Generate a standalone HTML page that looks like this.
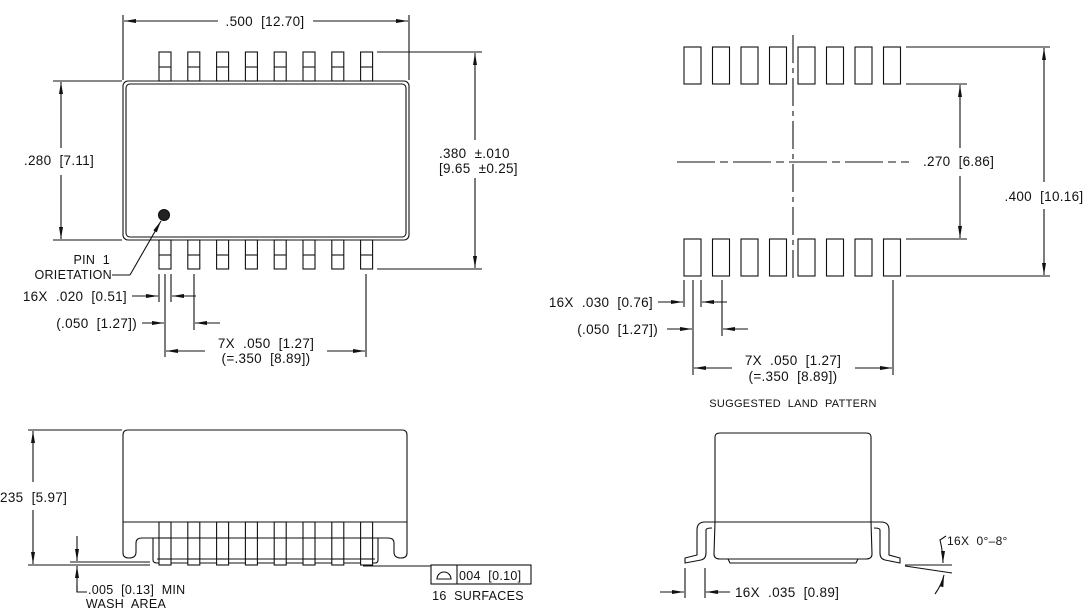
<!DOCTYPE html>
<html><head><meta charset="utf-8"><style>
html,body{margin:0;padding:0;background:#fff;}
svg{display:block;}
text{font-family:"Liberation Sans",sans-serif;font-size:13.5px;fill:#111;white-space:pre;letter-spacing:0.3px;}
.s{font-size:11px;}
</style></head><body>
<svg width="1089" height="611" viewBox="0 0 1089 611" xmlns="http://www.w3.org/2000/svg" xml:space="preserve">
<defs>
<marker id="a" viewBox="0 0 12 4" refX="12" refY="2" markerWidth="12" markerHeight="4" orient="auto" markerUnits="userSpaceOnUse"><path d="M0,0 L12,2 L0,4 z" fill="#111"/></marker>
</defs>
<g stroke="#111" stroke-width="1.1" fill="none">
<rect x="123" y="81" width="286" height="159" rx="5"/>
<rect x="126" y="84" width="280" height="153" rx="4"/>
<circle cx="164" cy="215" r="5.5" fill="#222"/>
<g id="tp">
<rect x="159" y="52" width="12" height="29"/><line x1="159" y1="67" x2="171" y2="67"/>
<rect x="159" y="240" width="12" height="29"/><line x1="159" y1="255" x2="171" y2="255"/>
</g>
<use href="#tp" x="28.8"/><use href="#tp" x="57.6"/><use href="#tp" x="86.4"/><use href="#tp" x="115.2"/><use href="#tp" x="144"/><use href="#tp" x="172.8"/><use href="#tp" x="201.6"/>
<line x1="123" y1="15" x2="123" y2="80"/><line x1="409" y1="15" x2="409" y2="80"/>
<line x1="218" y1="21" x2="124" y2="21" marker-end="url(#a)"/>
<line x1="313" y1="21" x2="408" y2="21" marker-end="url(#a)"/>
<line x1="53" y1="81" x2="122" y2="81"/><line x1="53" y1="240" x2="122" y2="240"/>
<line x1="61" y1="148" x2="61" y2="82" marker-end="url(#a)"/>
<line x1="61" y1="175" x2="61" y2="239" marker-end="url(#a)"/>
<line x1="377" y1="52" x2="482" y2="52"/><line x1="377" y1="269" x2="482" y2="269"/>
<line x1="475" y1="140" x2="475" y2="53" marker-end="url(#a)"/>
<line x1="475" y1="178" x2="475" y2="268" marker-end="url(#a)"/>
<line x1="130" y1="275" x2="112" y2="275"/>
<line x1="130" y1="275" x2="161" y2="221" marker-end="url(#a)"/>
<line x1="159" y1="274" x2="159" y2="302"/><line x1="171" y1="274" x2="171" y2="302"/>
<line x1="165" y1="274" x2="165" y2="357"/><line x1="194" y1="274" x2="194" y2="330"/>
<line x1="132" y1="296" x2="158" y2="296" marker-end="url(#a)"/>
<line x1="196" y1="296" x2="172" y2="296" marker-end="url(#a)"/>
<line x1="142" y1="323" x2="164" y2="323" marker-end="url(#a)"/>
<line x1="220" y1="323" x2="195" y2="323" marker-end="url(#a)"/>
<line x1="366" y1="274" x2="366" y2="357"/>
<line x1="205" y1="351" x2="166" y2="351" marker-end="url(#a)"/>
<line x1="327" y1="351" x2="365" y2="351" marker-end="url(#a)"/>

<g id="lp"><rect x="684" y="47" width="17" height="37"/><rect x="684" y="239" width="17" height="37"/></g>
<use href="#lp" x="28.5"/><use href="#lp" x="57"/><use href="#lp" x="85.5"/><use href="#lp" x="114"/><use href="#lp" x="142.5"/><use href="#lp" x="171"/><use href="#lp" x="199.5"/>
<line x1="793" y1="35" x2="793" y2="283" stroke-dasharray="28,5,5,5"/>
<line x1="677" y1="162" x2="909" y2="162" stroke-dasharray="38,5,8,5"/>
<line x1="906" y1="84" x2="967" y2="84"/><line x1="906" y1="239" x2="967" y2="239"/>
<line x1="960" y1="148" x2="960" y2="85" marker-end="url(#a)"/>
<line x1="960" y1="176" x2="960" y2="238" marker-end="url(#a)"/>
<line x1="906" y1="47" x2="1050" y2="47"/><line x1="906" y1="276" x2="1050" y2="276"/>
<line x1="1044" y1="182" x2="1044" y2="48" marker-end="url(#a)"/>
<line x1="1044" y1="209" x2="1044" y2="275" marker-end="url(#a)"/>
<line x1="684" y1="280" x2="684" y2="307"/><line x1="701" y1="280" x2="701" y2="307"/>
<line x1="693" y1="280" x2="693" y2="375"/><line x1="722" y1="280" x2="722" y2="336"/>
<line x1="658" y1="302" x2="683" y2="302" marker-end="url(#a)"/>
<line x1="727" y1="302" x2="702" y2="302" marker-end="url(#a)"/>
<line x1="667" y1="329" x2="692" y2="329" marker-end="url(#a)"/>
<line x1="748" y1="329" x2="723" y2="329" marker-end="url(#a)"/>
<line x1="893" y1="280" x2="893" y2="375"/>
<line x1="732" y1="368" x2="694" y2="368" marker-end="url(#a)"/>
<line x1="855" y1="368" x2="892" y2="368" marker-end="url(#a)"/>

<path d="M123,522 L123,435 Q123,430 128,430 L402,430 Q407,430 407,435 L407,522"/>
<line x1="123" y1="522" x2="407" y2="522"/>
<path d="M123,522 L123,553 Q123,558 129,558 Q136,558 136,552 L136,543 Q136,538 142,538 L160,538"/>
<path d="M407,522 L407,553 Q407,558 401,558 Q394,558 394,552 L394,543 Q394,538 388,538 L372,538"/>
<path d="M153,538 L153,560 Q153,563 157,563 L375,563 Q378,563 378,560 L378,538"/>
<line x1="160" y1="538" x2="372" y2="538"/>
<line x1="157" y1="559" x2="375" y2="559"/>
<g id="sp"><rect x="159" y="522" width="12" height="43" fill="#fff"/><line x1="159" y1="538" x2="171" y2="538"/><line x1="159" y1="559" x2="171" y2="559"/></g>
<use href="#sp" x="28.8"/><use href="#sp" x="57.6"/><use href="#sp" x="86.4"/><use href="#sp" x="115.2"/><use href="#sp" x="144"/><use href="#sp" x="172.8"/><use href="#sp" x="201.6"/>
<line x1="28" y1="430" x2="122" y2="430"/><line x1="28" y1="565" x2="150" y2="565"/>
<line x1="70" y1="562" x2="150" y2="562"/>
<line x1="33" y1="482" x2="33" y2="431" marker-end="url(#a)"/>
<line x1="33" y1="510" x2="33" y2="564" marker-end="url(#a)"/>
<line x1="77" y1="536" x2="77" y2="561" marker-end="url(#a)"/>
<path d="M77,592 L77,566" marker-end="url(#a)"/>
<path d="M77,585 L77,592 L87,592"/>
<line x1="363" y1="566" x2="431" y2="566"/>
<rect x="431" y="565" width="100" height="19"/>
<line x1="457" y1="565" x2="457" y2="584"/>
<path d="M437,579 A7,7 0 0 1 451,579 Z"/>

<path d="M715,522 L715,437 Q715,433 720,433 L866,433 Q871,433 871,437 L871,522"/>
<path d="M715,522 L714,554 Q714,559 720,559 L866,559 Q872,559 872,554 L871,522"/>
<path d="M728,559 L730,563 L856,563 L858,559"/>
<line x1="712" y1="522" x2="874" y2="522"/>
<path d="M714,522 L705,522 Q697,522 697,530 L697,555 L685,558 L685,563 L701,560 Q706,559 706,553 L706,530 Q706,528 712,528"/>
<path d="M872,522 L881,522 Q889,522 889,530 L889,555 L900,558 L900,563 L885,560 Q880,559 880,553 L880,530 Q880,528 874,528"/>
<line x1="685" y1="568" x2="685" y2="598"/><line x1="705" y1="568" x2="705" y2="598"/>
<line x1="660" y1="592" x2="684" y2="592" marker-end="url(#a)"/>
<line x1="730" y1="592" x2="706" y2="592" marker-end="url(#a)"/>
<line x1="905" y1="565" x2="952" y2="565"/>
<line x1="905" y1="566" x2="952" y2="573"/>
<path d="M946,536 L940,540 Q943,552 943,563" marker-end="url(#a)"/>
<path d="M935,594 Q942,584 944,575" marker-end="url(#a)"/>
</g>
<g>
<text x="265" y="26" text-anchor="middle">.500  [12.70]</text>
<text x="59" y="165" text-anchor="middle">.280  [7.11]</text>
<text x="439" y="158">.380  ±.010</text>
<text x="439" y="173">[9.65  ±0.25]</text>
<text x="110" y="264" text-anchor="end" style="font-size:12.5px">PIN  1</text>
<text x="112" y="279" text-anchor="end" style="font-size:12.5px">ORIETATION</text>
<text x="127" y="301" text-anchor="end">16X  .020  [0.51]</text>
<text x="137" y="328" text-anchor="end">(.050  [1.27])</text>
<text x="266" y="348" text-anchor="middle">7X  .050  [1.27]</text>
<text x="266" y="363" text-anchor="middle">(=.350  [8.89])</text>
<text x="923" y="166">.270  [6.86]</text>
<text x="1044" y="201" text-anchor="middle">.400  [10.16]</text>
<text x="653" y="307" text-anchor="end">16X  .030  [0.76]</text>
<text x="658" y="334" text-anchor="end">(.050  [1.27])</text>
<text x="793" y="365" text-anchor="middle">7X  .050  [1.27]</text>
<text x="793" y="381" text-anchor="middle">(=.350  [8.89])</text>
<text x="793" y="407" text-anchor="middle" class="s">SUGGESTED  LAND  PATTERN</text>
<text x="-4" y="502">.235  [5.97]</text>
<text x="88" y="594" style="font-size:12.5px">.005  [0.13]  MIN</text>
<text x="126" y="608" text-anchor="middle" style="font-size:12.5px">WASH  AREA</text>
<text x="459" y="580" style="font-size:12.5px">004  [0.10]</text>
<text x="478" y="600" text-anchor="middle" style="font-size:12.5px">16  SURFACES</text>
<text x="735" y="597">16X  .035  [0.89]</text>
<text x="947" y="545" style="font-size:12px">16X  0°–8°</text>
</g>
</svg>
</body></html>
